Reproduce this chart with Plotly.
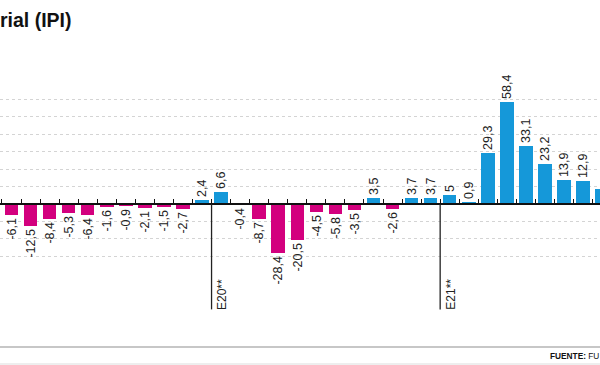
import plotly.graph_objects as go

# Monthly variation of the IPI (%), Feb-2019 .. Sep-2021 (visible window)
months = [
    "feb-19", "mar-19", "abr-19", "may-19", "jun-19", "jul-19", "ago-19", "sep-19",
    "oct-19", "nov-19", "dic-19",
    "ene-20", "feb-20", "mar-20", "abr-20", "may-20", "jun-20", "jul-20", "ago-20",
    "sep-20", "oct-20", "nov-20", "dic-20",
    "ene-21", "feb-21", "mar-21", "abr-21", "may-21", "jun-21", "jul-21", "ago-21",
    "sep-21",
]
values = [
    -6.1, -12.5, -8.4, -5.3, -6.4, -1.6, -0.9, -2.1, -1.5, -2.7, 2.4,
    6.6, -0.4, -8.7, -28.4, -20.5, -4.5, -5.8, -3.5, 3.5, -2.6, 3.7, 3.7,
    5.0, 0.9, 29.3, 58.4, 33.1, 23.2, 13.9, 12.9, 8.6,
]
year_marks = ["E20**", "E21**"]
year_mark_pos = [10.5, 22.5]   # boundaries between dic and ene
grid_vals = [-30, -20, -10, 10, 20, 30, 40, 50, 60]

BLUE = "#1598d9"
MAGENTA = "#d3007e"

idx = list(range(len(values)))
labels = [(f"{v:.1f}".replace(".", ",") if v != int(v) else f"{int(v)}") for v in values]
colors = [BLUE if v >= 0 else MAGENTA for v in values]

fig = go.Figure()
fig.add_trace(go.Bar(
    x=idx, y=values, width=0.71,
    marker=dict(color=colors, line=dict(width=0)),
    text=labels, textposition="outside", textangle=-90,
    textfont=dict(family="Liberation Sans, Arial, sans-serif", size=12.5, color="#222"),
    constraintext="none", cliponaxis=False,
    hovertext=months, hoverinfo="text+y",
))

Y0, Y1 = -62, 70
H_PLOT = 365 - 82 - 53
zero_pos = (0 - Y0) / (Y1 - Y0)

for pos, lab in zip(year_mark_pos, year_marks):
    fig.add_shape(type="line", xref="x", yref="y", x0=pos, x1=pos, y0=0, y1=-60.5,
                  line=dict(color="#222", width=1.3), layer="above")
    fig.add_annotation(x=pos, y=-62, xref="x", yref="y", text=lab, showarrow=False,
                       textangle=-90, xanchor="left", yanchor="bottom", xshift=1,
                       font=dict(family="Liberation Sans, Arial, sans-serif", size=12, color="#222"))

# footer lines and source
def py(pix):
    return (312 - pix) / H_PLOT

fig.add_shape(type="line", xref="paper", yref="paper", x0=0, x1=1, y0=py(347), y1=py(347),
              line=dict(color="#b5b5b5", width=1.5))
fig.add_shape(type="line", xref="paper", yref="paper", x0=0, x1=1, y0=py(364), y1=py(364),
              line=dict(color="#dddddd", width=1))
fig.add_annotation(xref="paper", yref="paper", x=548 / 600, y=py(355.5), xanchor="left", yanchor="middle",
                   text="<b>FUENTE:</b> FU", showarrow=False,
                   font=dict(family="Liberation Sans, Arial, sans-serif", size=8.3, color="#111"))

fig.update_layout(
    width=600, height=365,
    margin=dict(l=0, r=0, t=82, b=53),
    paper_bgcolor="white", plot_bgcolor="white",
    showlegend=False, bargap=0,
    title=dict(text="<b>rial (IPI)</b>", x=0, xref="container", xanchor="left",
               y=1 - 20 / 365, yref="container", yanchor="middle",
               font=dict(family="Liberation Sans, Arial, sans-serif", size=19.5, color="#111")),
    xaxis=dict(range=[-0.604, 30.89], showgrid=False, zeroline=False,
               showline=True, linecolor="#111", linewidth=1.5,
               anchor="free", position=zero_pos,
               tickmode="linear", tick0=0.5, dtick=1, ticks="inside", ticklen=4,
               tickcolor="#111", tickwidth=1.3, showticklabels=False),
    yaxis=dict(range=[Y0, Y1], tickmode="array", tickvals=grid_vals, showticklabels=False,
               showgrid=True, gridcolor="#d4d4d4", gridwidth=1, griddash="3px,3px",
               zeroline=False, showline=False),
)

fig.write_html("out.html", config={"displayModeBar": False},
               post_script="document.body.style.margin='0';document.body.style.overflow='hidden';")
